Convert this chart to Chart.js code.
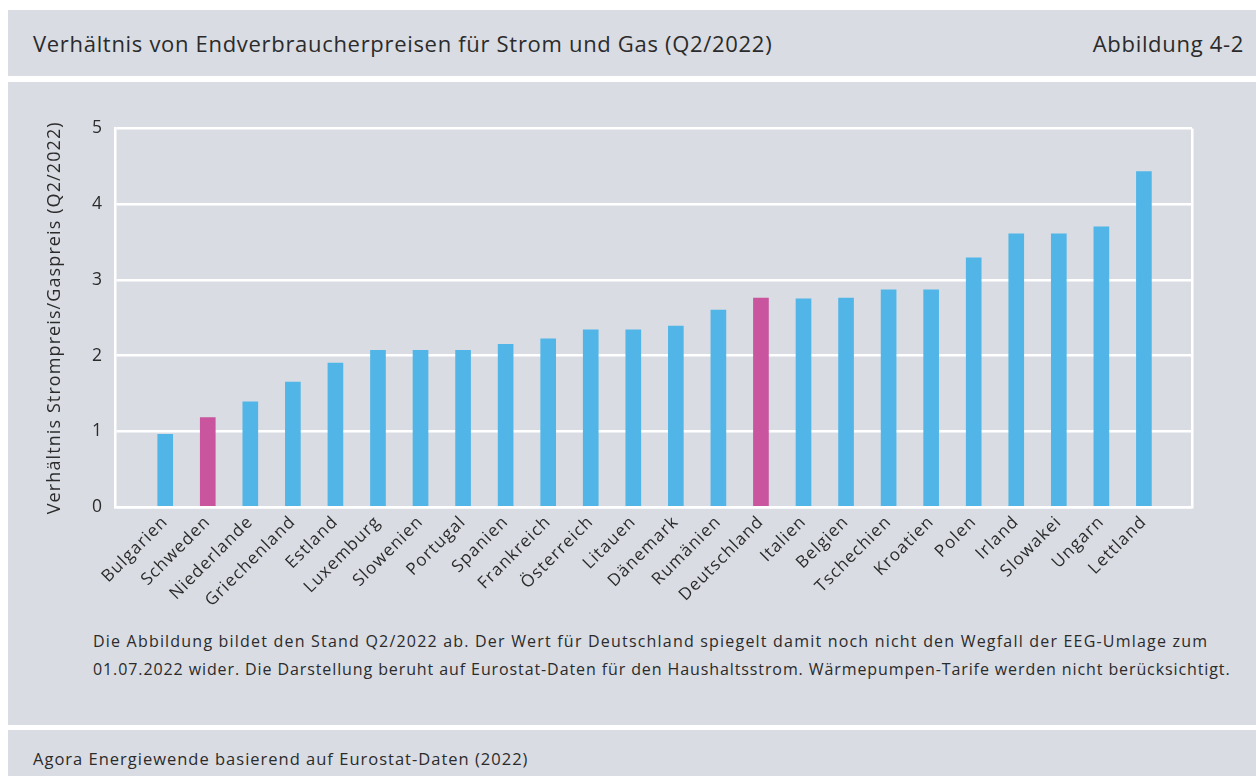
<!DOCTYPE html>
<html lang="de">
<head>
<meta charset="utf-8">
<script src="https://cdn.jsdelivr.net/npm/chart.js@4"></script>
<style>
  html, body { margin: 0; padding: 0; background: #ffffff; }
  body { width: 1256px; height: 776px; position: relative; overflow: hidden; font-family: "Open Sans", "Noto Sans", sans-serif; color: #2b2b2b; }
  .panel { position: absolute; left: 8px; right: 0; background: #d9dce3; }
  #head { top: 10px; height: 66px; }
  #main { top: 82px; height: 643px; }
  #foot { top: 730px; height: 60px; }
  #title { position: absolute; left: 25px; top: 18px; font-size: 22px; letter-spacing: 0.69px; white-space: nowrap; }
  #fig { position: absolute; right: 12px; top: 18px; font-size: 22px; letter-spacing: 0.69px; white-space: nowrap; }
  #chartbox { position: absolute; left: 0; top: 0; width: 1248px; height: 545px; }
  #notes { position: absolute; left: 85px; top: 545px; font-size: 16px; letter-spacing: 0.9px; line-height: 28px; white-space: nowrap; }
  #notes .l1 { letter-spacing: 1.2px; }
  #source { position: absolute; left: 25px; top: 17px; font-size: 16.5px; letter-spacing: 1px; white-space: nowrap; }
</style>
</head>
<body>
<div class="panel" id="head">
  <div id="title">Verhältnis von Endverbraucherpreisen für Strom und Gas (Q2/2022)</div>
  <div id="fig">Abbildung 4-2</div>
</div>
<div class="panel" id="main">
  <div id="chartbox"><canvas id="c" width="1248" height="545"></canvas></div>
  <div id="notes"><span class="l1">Die Abbildung bildet den Stand Q2/2022 ab. Der Wert für Deutschland spiegelt damit noch nicht den Wegfall der EEG-Umlage zum</span><br>01.07.2022 wider. Die Darstellung beruht auf Eurostat-Daten für den Haushaltsstrom. Wärmepumpen-Tarife werden nicht berücksichtigt.</div>
</div>
<div class="panel" id="foot">
  <div id="source">Agora Energiewende basierend auf Eurostat-Daten (2022)</div>
</div>
<script>
const countries = ["Bulgarien","Schweden","Niederlande","Griechenland","Estland","Luxemburg","Slowenien","Portugal","Spanien","Frankreich","Österreich","Litauen","Dänemark","Rumänien","Deutschland","Italien","Belgien","Tschechien","Kroatien","Polen","Irland","Slowakei","Ungarn","Lettland"];
const ratios = [0.96,1.18,1.39,1.65,1.90,2.07,2.07,2.07,2.15,2.22,2.34,2.34,2.39,2.60,2.76,2.75,2.76,2.87,2.87,3.29,3.61,3.61,3.70,4.43];
const highlighted = ["Schweden","Deutschland"];
const yTicks = [0,1,2,3,4,5];
const yTitle = "Verhältnis Strompreis/Gaspreis (Q2/2022)";

const BLUE = "#51b6e7", PINK = "#c8559d", WHITE = "#ffffff", TEXT = "#2b2b2b";
const FONT = '"Open Sans", "Noto Sans", sans-serif';
const X_MIN = -1.18, X_MAX = 24.13;

const spacing = {
  id: "spacing",
  beforeLayout: c => { c.ctx.letterSpacing = "1.1px"; },
  beforeDraw: c => { c.ctx.letterSpacing = "1.1px"; }
};

new Chart(document.getElementById("c"), {
  type: "bar",
  plugins: [spacing],
  data: {
    datasets: [{
      data: ratios.map((v, i) => ({ x: i, y: v })),
      backgroundColor: countries.map(c => highlighted.includes(c) ? PINK : BLUE),
      barThickness: 15,
      borderWidth: 0
    }]
  },
  options: {
    responsive: false,
    animation: false,
    events: [],
    layout: { padding: { top: 46.5, right: 64, bottom: 0, left: 0 } },
    plugins: { legend: { display: false }, tooltip: { enabled: false } },
    scales: {
      x: {
        type: "linear",
        min: X_MIN, max: X_MAX,
        offset: false,
        afterBuildTicks: a => { a.ticks = countries.map((_, i) => ({ value: i })).concat([{ value: X_MAX }]); },
        afterFit: a => { a.height = 120; },
        ticks: {
          autoSkip: false, minRotation: 45, maxRotation: 45, padding: 5,
          color: TEXT, font: { family: FONT, size: 17 },
          callback: v => (Number.isInteger(v) && countries[v] !== undefined) ? countries[v] : ""
        },
        grid: {
          offset: false,
          drawTicks: false,
          lineWidth: 2.5,
          color: ctx => (ctx.tick && ctx.tick.value === X_MAX) ? WHITE : "rgba(0,0,0,0)"
        },
        border: { display: true, color: WHITE, width: 2.5 }
      },
      y: {
        min: 0, max: 5,
        afterBuildTicks: a => { a.ticks = yTicks.map(v => ({ value: v })); },
        afterFit: a => { a.width = 107; },
        ticks: { color: TEXT, padding: 12, font: { family: FONT, size: 17.5 } },
        grid: { drawTicks: false, color: WHITE, lineWidth: 2.5 },
        border: { display: true, color: WHITE, width: 2.5 },
        title: { display: true, text: yTitle, color: TEXT, font: { family: FONT, size: 18 }, padding: { top: 36, bottom: 0 } }
      }
    }
  }
});
</script>
</body>
</html>
